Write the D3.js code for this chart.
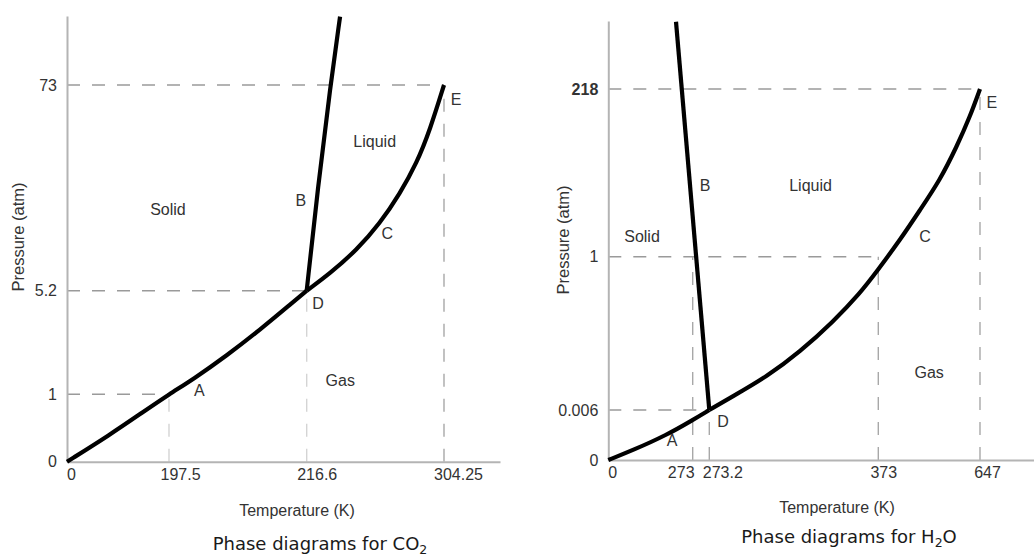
<!DOCTYPE html>
<html lang="en">
<head>
<meta charset="UTF-8">
<title>Phase diagrams for CO2 and H2O</title>
<script src="https://d3js.org/d3.v7.min.js"></script>
<style>
  body { margin: 0; background: #fff; }
  svg { display: block; }
</style>
</head>
<body>
<div id="chart"></div>
<script>
// ---- CO2 data (temperature K, pressure atm) ----
const co2TempTicks = [0, 197.5, 216.6, 304.25];
const co2PressTicks = [0, 1, 5.2, 73];
const co2Sublimation = [[0, 0], [83.2, 0.40], [147.7, 0.74], [197.5, 1], [200.9, 1.62], [205.5, 2.57], [210.1, 3.61], [214.7, 4.74], [216.6, 5.2]];
const co2Melting = [[216.6, 5.2], [223.8, 39.5], [231.8, 73], [237.9, 95.5]];
const co2Vaporization = [[216.6, 5.2], [231.5, 10.9], [248.5, 18.6], [263.4, 27.4], [276.2, 37.3], [286.8, 47.2], [295.3, 58.2], [304.25, 73]];
const co2Guides = [[197.5, 1], [216.6, 5.2], [304.25, 73]];
const co2Labels = [["Solid", 195.5, 32], ["Liquid", 260, 54.5], ["B", 215.8, 35], ["C", 268, 24],
                   ["D", 223.8, 4.7], ["Gas", 238, 1.58], ["A", 201.7, 1.17], ["E", 312, 68.4]];

// ---- H2O data ----
const h2oTempTicks = [0, 273, 273.2, 373, 647];
const h2oPressTicks = [0, 0.006, 1, 218];
const h2oSublimation = [[0, 0], [81, 0.0012], [189, 0.003], [273, 0.0048], [273.2, 0.006]];
const h2oMelting = [[273.2, 0.006], [219, 305]];
const h2oVaporization = [[273.2, 0.006], [287.4, 0.097], [307.1, 0.222], [326.8, 0.384], [346.4, 0.579], [362.2, 0.763],
                         [372.0, 0.903], [431.5, 22.6], [485.3, 61.4], [539.2, 100.2], [584.2, 143.3], [620.0, 182.2], [647, 218]];
const h2oGuides = [[273.2, 0.006], [373, 1], [647, 218]];
const h2oExtraVertical = [[273, 1]];
const h2oLabels = [["Solid", 109, 27.8], ["Liquid", 333, 93.8], ["B", 273.15, 93.8], ["C", 499, 27.8],
                   ["D", 281.3, 0.0046], ["Gas", 510, 0.25], ["A", 206, 0.0024], ["E", 679, 201]];

const width = 1034, height = 557;
const svg = d3.select("#chart").append("svg")
  .attr("width", width)
  .attr("height", height)
  .attr("viewBox", [0, 0, width, height]);

const labelFont = "'Liberation Sans', Arial, sans-serif";

function drawPanel(p) {
  // schematic (piecewise) axes: each tick gets its own spot
  const x = d3.scaleLinear().domain(p.xDomain).range(p.xRange);
  const y = d3.scaleLinear().domain(p.yDomain).range(p.yRange);
  const g = svg.append("g");

  // dashed guides
  const guides = g.append("g").attr("fill", "none").attr("stroke-width", 1.4).attr("stroke-dasharray", "13,12");
  guides.selectAll("line.h").data(p.guides).join("line")
    .attr("class", "h")
    .attr("x1", x(0)).attr("x2", d => x(d[0]))
    .attr("y1", d => y(d[1])).attr("y2", d => y(d[1]))
    .attr("stroke", "#9a9a9a");
  guides.selectAll("line.v").data(p.guides.concat(p.extraV || [])).join("line")
    .attr("class", "v")
    .attr("x1", d => x(d[0])).attr("x2", d => x(d[0]))
    .attr("y1", y(0)).attr("y2", d => y(d[1]))
    .attr("stroke", (d, i) => p.vColor(i));

  // axes
  const xAxis = g.append("g")
    .attr("transform", `translate(0,${y(0)})`)
    .call(d3.axisBottom(x).tickValues(p.xTicks).tickSize(0).tickSizeOuter(0).tickPadding(7).tickFormat(d => String(d)));
  xAxis.selectAll("text").attr("dx", (d, i) => p.xLabelDx[i]);
  const yAxis = g.append("g")
    .attr("transform", `translate(${x(0)},0)`)
    .call(d3.axisLeft(y).tickValues(p.yTicks).tickSize(0).tickSizeOuter(0).tickPadding(10).tickFormat(d => String(d)));
  yAxis.selectAll("text").attr("font-weight", d => d === p.boldTick ? "bold" : null);
  g.selectAll(".domain").attr("stroke", "#b4b4b4").attr("stroke-width", 2);
  g.selectAll(".tick text").attr("font-family", labelFont).attr("font-size", 16).attr("fill", "#333");

  // phase boundaries
  const line = d3.line().x(d => x(d[0])).y(d => y(d[1])).curve(d3.curveBasis);
  g.append("g").attr("fill", "none").attr("stroke", "#000").attr("stroke-width", 4.2)
    .selectAll("path").data([p.sublimation, p.vaporization, p.melting]).join("path")
    .attr("d", line);

  // region / point labels
  g.append("g").selectAll("text").data(p.labels).join("text")
    .attr("x", d => x(d[1])).attr("y", d => y(d[2]))
    .attr("dy", "0.35em").attr("text-anchor", "middle")
    .attr("font-family", labelFont).attr("font-size", 16).attr("fill", "#333")
    .text(d => d[0]);

  // axis titles
  g.append("text")
    .attr("transform", `translate(${p.yTitlePos[0]},${p.yTitlePos[1]}) rotate(-90)`)
    .attr("dy", "0.35em").attr("text-anchor", "middle")
    .attr("font-family", labelFont).attr("font-size", 16.5).attr("fill", "#333")
    .text("Pressure (atm)");
  g.append("text")
    .attr("x", p.xTitlePos[0]).attr("y", p.xTitlePos[1])
    .attr("dy", "0.35em").attr("text-anchor", "middle")
    .attr("font-family", labelFont).attr("font-size", 16).attr("fill", "#333")
    .text("Temperature (K)");

  // caption with subscript
  const cap = g.append("text")
    .attr("x", p.captionPos[0]).attr("y", p.captionPos[1])
    .attr("text-anchor", "middle")
    .attr("font-family", "'DejaVu Sans', Verdana, sans-serif").attr("font-size", 18).attr("fill", "#1a1a1a");
  cap.append("tspan").text("Phase diagrams for " + p.formula[0]);
  cap.append("tspan").attr("font-size", 12.5).attr("dy", 4).text(p.formula[1]);
  if (p.formula[2]) cap.append("tspan").attr("dy", -4).text(p.formula[2]);
}

drawPanel({
  xDomain: co2TempTicks.concat([340]), xRange: [67, 169, 306.7, 444, 500],
  yDomain: co2PressTicks.concat([95.7]), yRange: [461.7, 394.3, 290.7, 85, 16],
  xTicks: co2TempTicks, yTicks: co2PressTicks,
  xLabelDx: [4, 11, 10, 14],
  sublimation: co2Sublimation, melting: co2Melting, vaporization: co2Vaporization,
  guides: co2Guides, vColor: i => i < 2 ? "#d4d4d4" : "#a8a8a8",
  labels: co2Labels,
  yTitlePos: [18, 237], xTitlePos: [297, 510],
  captionPos: [320, 550], formula: ["CO", "2"]
});

drawPanel({
  xDomain: h2oTempTicks.concat([792]), xRange: [608.3, 692.7, 709.3, 878.3, 980, 1034],
  yDomain: h2oPressTicks.concat([306]), yRange: [460, 410, 256.7, 89, 21],
  xTicks: h2oTempTicks, yTicks: h2oPressTicks, boldTick: 218,
  xLabelDx: [4, -12, 13, 5, 7],
  sublimation: h2oSublimation, melting: h2oMelting, vaporization: h2oVaporization,
  guides: h2oGuides, extraV: h2oExtraVertical, vColor: () => "#a8a8a8",
  labels: h2oLabels,
  yTitlePos: [563, 240], xTitlePos: [837, 507],
  captionPos: [849, 543], formula: ["H", "2", "O"]
});
</script>
</body>
</html>
